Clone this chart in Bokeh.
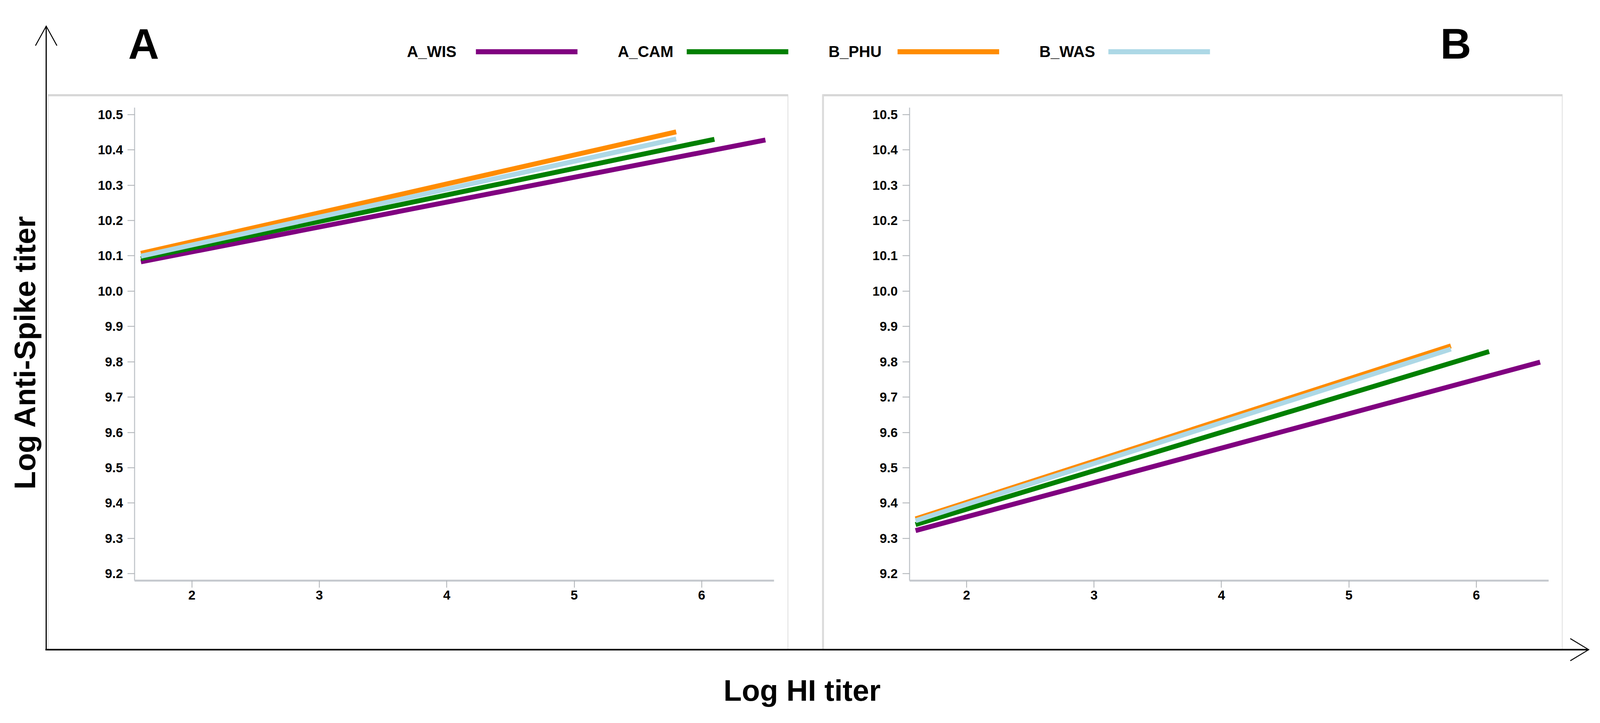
import math
from bokeh.plotting import figure
from bokeh.models import Range1d, LinearAxis, FixedTicker, NumeralTickFormatter
from bokeh.core.properties import value
from bokeh.embed import file_html
from bokeh.resources import INLINE

# ---------------- data ----------------
series = ["A_WIS", "A_CAM", "B_PHU", "B_WAS"]
colors = ["#800080", "#008000", "#FF8C00", "#ADD8E6"]
x_start = [1.6, 1.6, 1.6, 1.6]
x_end = [6.5, 6.1, 5.8, 5.8]
panelA_y_start = [10.083, 10.092, 10.107, 10.099]
panelA_y_end = [10.428, 10.430, 10.451, 10.431]
panelB_y_start = [9.322, 9.339, 9.355, 9.350]
panelB_y_end = [9.799, 9.829, 9.845, 9.836]
x_ticks = [2, 3, 4, 5, 6]
y_ticks = [9.2, 9.3, 9.4, 9.5, 9.6, 9.7, 9.8, 9.9, 10.0, 10.1, 10.2, 10.3, 10.4, 10.5]
x_axis_bounds = (1.552, 6.568)
y_axis_bounds = (9.1805, 10.52)
panel_letters = ["A", "B"]
x_title = "Log HI titer"
y_title = "Log Anti-Spike titer"

# ---------------- canvas (data coordinates = reference pixels) ----------------
REF_W = 4174                    # reference width from x = 8
S = 0.9775                      # expected page-width / reference-width ratio
H = 1815                        # page height (width stretches to the window)
REF_H = H / S                   # reference pixels covered vertically
FONT = value("Liberation Sans")

def fs(px):
    return f"{px * S:.1f}px"

p = figure(height=H, sizing_mode="stretch_width",
           x_range=Range1d(8, 8 + REF_W), y_range=Range1d(8 + REF_H, 8),
           x_axis_type=None, y_axis_type=None, toolbar_location=None,
           output_backend="svg", min_border=0, outline_line_color=None)
p.background_fill_color = "white"
p.border_fill_color = "white"

# panel scales: pixel of x=2 / y=10 and pixels per unit (reference pixels)
PX_UNIT = 332.5
PY_UNIT = 925.0
X2_A, X2_B, Y10 = 508.0, 2529.0, 770.0

def xr(x2):
    return Range1d(2 + (8 - x2) / PX_UNIT, 2 + (8 + REF_W - x2) / PX_UNIT)

p.extra_x_ranges = {"xa": xr(X2_A), "xb": xr(X2_B)}
p.extra_y_ranges = {"ya": Range1d(10 - (8 + REF_H - Y10) / PY_UNIT, 10 + (Y10 - 8) / PY_UNIT)}

# ---------------- panel frames ----------------
p.quad(left=[133, 2153], right=[2063, 4083], top=[255, 255], bottom=[1710, 1710],
       fill_color=None, line_color="#dedede", line_width=2)
p.segment(x0=[133, 2153], y0=[257, 257], x1=[2063, 4083], y1=[257, 257],
          line_color="#d6d6d6", line_width=5)
p.segment(x0=[2155], y0=[255], x1=[2155], y1=[1710], line_color="#dadada", line_width=4)

# ---------------- big arrows ----------------
p.segment(x0=[128], y0=[1710], x1=[128], y1=[76], line_color="black", line_width=3)
p.segment(x0=[126], y0=[1709], x1=[4150], y1=[1709], line_color="black", line_width=4)
p.multi_line(xs=[[100, 128, 156], [4104, 4152, 4104]], ys=[[127, 76, 127], [1680, 1709, 1738]],
             line_color="black", line_width=2.5, line_join="miter")

# ---------------- letters, titles ----------------
p.text(x=[342, 3765], y=[122, 122], text=panel_letters, text_font=FONT,
       text_font_style="bold", text_font_size=fs(112), text_color="black",
       text_align="left", text_baseline="alphabetic")
p.text(x=[72], y=[930], text=[y_title], angle=math.pi / 2, text_font=FONT,
       text_font_style="bold", text_font_size=fs(78), text_color="black",
       text_align="center", text_baseline="middle")
p.text(x=[2100], y=[1816], text=[x_title], text_font=FONT,
       text_font_style="bold", text_font_size=fs(78), text_color="black",
       text_align="center", text_baseline="alphabetic")

# ---------------- legend ----------------
leg_x = [1069 + 550 * i for i in range(len(series))]
p.text(x=leg_x, y=[143] * len(series), text=series, text_font=FONT,
       text_font_style="bold", text_font_size=fs(41), text_color="black",
       text_align="left", text_baseline="middle")
p.segment(x0=[x + 180 for x in leg_x], y0=[143] * len(series),
          x1=[x + 445 for x in leg_x], y1=[143] * len(series),
          line_color=colors, line_width=13, line_cap="butt")

# ---------------- axes ----------------
def add_axes(xname):
    xa = LinearAxis(x_range_name=xname, y_range_name="ya", fixed_location=y_axis_bounds[0],
                    bounds=x_axis_bounds, ticker=FixedTicker(ticks=x_ticks))
    ya = LinearAxis(x_range_name=xname, y_range_name="ya", fixed_location=x_axis_bounds[0],
                    bounds=y_axis_bounds, ticker=FixedTicker(ticks=y_ticks),
                    formatter=NumeralTickFormatter(format="0.0"))
    for ax, lw, so in ((xa, 5, 8), (ya, 3, 12)):
        ax.axis_line_color = "#c6cacf"
        ax.axis_line_width = lw
        ax.major_tick_line_color = "#a9adb2"
        ax.major_tick_line_width = 2
        ax.major_tick_out = 18
        ax.major_tick_in = 0
        ax.minor_tick_line_color = None
        ax.major_label_text_font = "Liberation Sans"
        ax.major_label_text_font_style = "bold"
        ax.major_label_text_font_size = fs(34)
        ax.major_label_text_color = "black"
        ax.major_label_standoff = so
    p.add_layout(xa, "below")
    p.add_layout(ya, "left")

add_axes("xa")
add_axes("xb")

# ---------------- regression lines ----------------
for i in range(len(series)):
    p.line(x=[x_start[i], x_end[i]], y=[panelA_y_start[i], panelA_y_end[i]],
           x_range_name="xa", y_range_name="ya", line_color=colors[i],
           line_width=12.5, line_cap="butt")
    p.line(x=[x_start[i], x_end[i]], y=[panelB_y_start[i], panelB_y_end[i]],
           x_range_name="xb", y_range_name="ya", line_color=colors[i],
           line_width=12.5, line_cap="butt")

open("out.html", "w").write(file_html(p, INLINE))
